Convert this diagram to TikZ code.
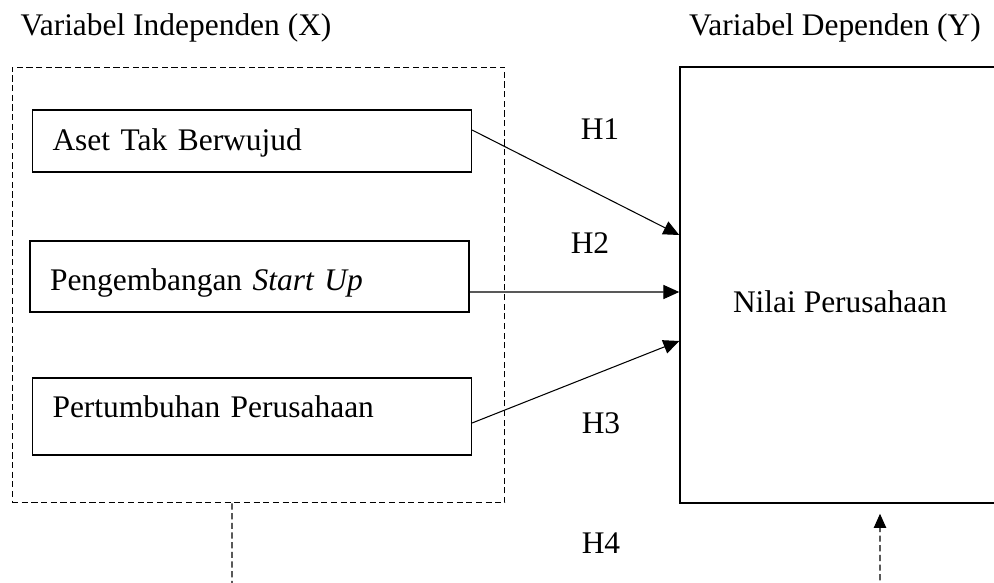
\documentclass[tikz,border=0pt]{standalone}
\usepackage{fontspec}
\setmainfont{Liberation Serif}
\usepackage{tikz}
\usetikzlibrary{arrows.meta,calc,positioning}

\begin{document}
\begin{tikzpicture}[
		x=0.02cm, y=-0.02cm,
		every node/.style={font=\fontsize{17.9}{21}\selectfont},
		varbox/.style={draw, line width=0.7pt, inner ysep=0pt, inner xsep=0.4cm, align=left, text width=7.98cm},
		groupbox/.style={draw, dashed, dash pattern=on 3.5pt off 2pt, line width=0.6pt, inner sep=0pt},
		hyp/.style={anchor=base},
		->,>={Triangle[length=9pt,width=8pt]}
		]
		\useasboundingbox (0,0) rectangle (994,582);
		
		% Les titres
		\node[hyp] (titx) at (176,35) {Variabel Independen (X)};
		\node[hyp] (tity) at (835,35) {Variabel Dependen (Y)};
		
		% Les boites
		\node[groupbox, minimum width=9.86cm, minimum height=8.72cm] (xgroup) at (258.5,285) {};
		\node[varbox, text height=0.8cm, text depth=0.44cm] (aset) at (252,141) {Aset Tak Berwujud};
		\node[varbox, text height=0.98cm, text depth=0.44cm] (startup) at (249.5,276.5) {Pengembangan \textit{Start Up}};
		\node[varbox, text height=0.78cm, text depth=0.76cm] (tumbuh) at (252,416.5) {Pertumbuhan Perusahaan};
		\node[draw, line width=0.9pt, inner sep=0pt, minimum width=6.4cm, text height=4.9cm, text depth=3.82cm] (nilai) at (840,285) {Nilai Perusahaan};
		
		% Les hypotheses
		\node[hyp] (h1) at (600,139) {H1};
		\node[hyp] (h2) at (590,253) {H2};
		\node[hyp] (h3) at (601,433) {H3};
		\node[hyp] (h4) at (601,553) {H4};
		
		% Les fleches
		\draw[line width=0.6pt] ([yshift=0.22cm]aset.east) -- ([yshift=1cm]nilai.west);
		\draw[line width=0.6pt] ([yshift=-0.31cm]startup.east) -- ([yshift=-0.14cm]nilai.west);
		\draw[line width=0.6pt] ([yshift=-0.13cm]tumbuh.east) -- ([yshift=-1.12cm]nilai.west);
		
		% H4 en pointilles
		\coordinate (xend) at (232,590);
		\coordinate (yend) at (880,590);
		\draw[-, line width=0.6pt, dash pattern=on 3.5pt off 2pt] ([xshift=-0.53cm]xgroup.south) -- (xend);
		\draw[line width=0.6pt, dash pattern=on 3.5pt off 2pt, -{Triangle[length=8pt,width=7pt]}] (yend) -- ([xshift=0.8cm,yshift=-0.2cm]nilai.south);
	\end{tikzpicture}
\end{document}
